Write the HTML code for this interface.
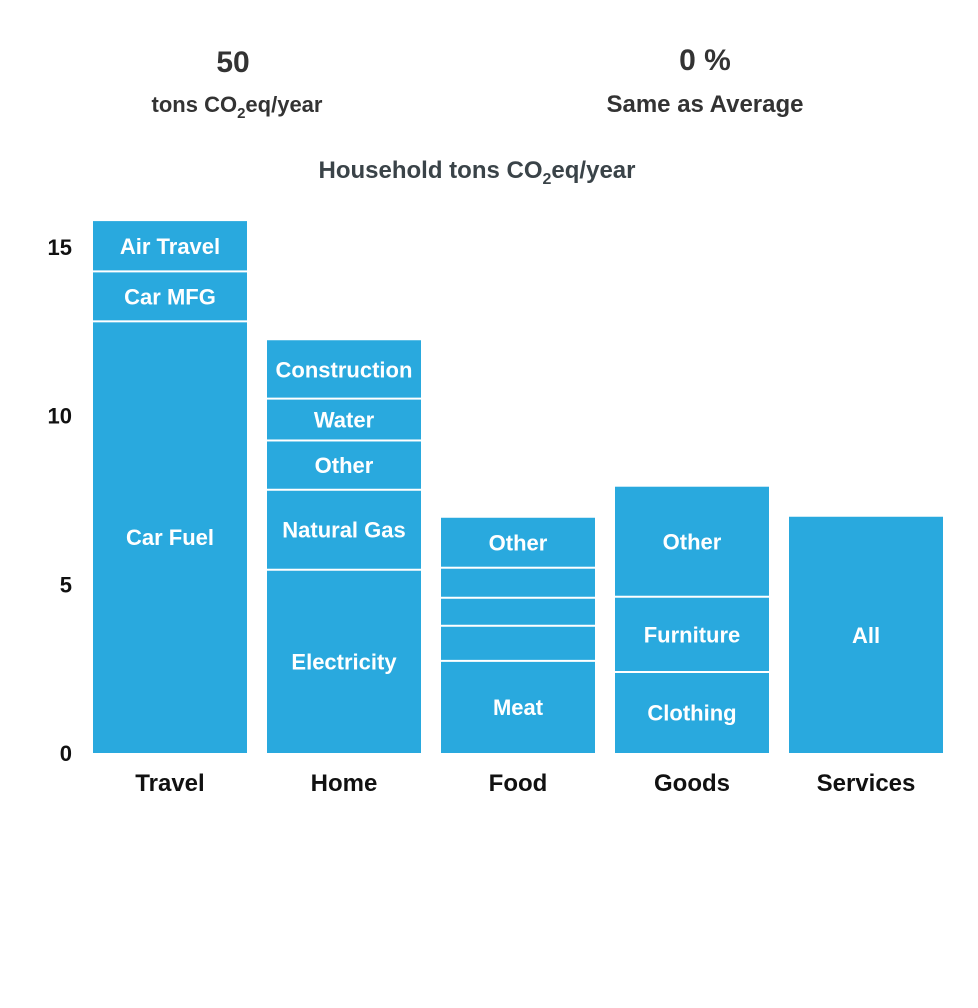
<!DOCTYPE html>
<html><head><meta charset="utf-8"><style>
body{margin:0;background:#fff;}
svg{display:block;font-family:"Liberation Sans",sans-serif;}
</style></head><body>
<svg id="chart" width="978" height="1008">
<text x="233" y="72" text-anchor="middle" font-size="30" font-weight="bold" fill="#333">50</text>
<text x="237" y="112" text-anchor="middle" font-size="22" font-weight="bold" fill="#333">tons CO<tspan font-size="15" dy="6">2</tspan><tspan dy="-6">eq/year</tspan></text>
<text x="705" y="70" text-anchor="middle" font-size="30" font-weight="bold" fill="#333">0 %</text>
<text x="705" y="112" text-anchor="middle" font-size="24" font-weight="bold" fill="#333">Same as Average</text>
<text x="477" y="178" text-anchor="middle" font-size="24" font-weight="bold" fill="#3a4348">Household tons CO<tspan font-size="16" dy="6">2</tspan><tspan dy="-6">eq/year</tspan></text>
<g id="axis"></g><g id="bars"></g>
</svg>
<script>
const categories=["Travel","Home","Food","Goods","Services"];
const segLabels=[["Car Fuel","Car MFG","Air Travel"],["Electricity","Natural Gas","Other","Water","Construction"],["Meat","","","","Other"],["Clothing","Furniture","Other"],["All"]];
const segValues=[[12.79,1.48,1.49],[5.43,2.37,1.46,1.24,1.73],[2.73,1.04,0.83,0.89,1.48],[2.4,2.23,3.26],[7.0]];
const ticks=[0,5,10,15];
const NS="http://www.w3.org/2000/svg";
const y0=753,k=33.75,x0=93,bw=154,gap=20;
const Y=v=>y0-v*k, X=i=>x0+i*(bw+gap);
const ax=document.getElementById("axis"),bars=document.getElementById("bars");
function mk(t,a,p){const e=document.createElementNS(NS,t);for(const q in a)e.setAttribute(q,a[q]);p.appendChild(e);return e;}
ticks.forEach(t=>{const e=mk("text",{x:72,y:Y(t)+8,"text-anchor":"end","font-size":22,"font-weight":"bold",fill:"#111"},ax);


e.textContent=t;});
categories.forEach((c,i)=>{let cum=0;
segValues[i].forEach((v,j)=>{const top=Y(cum+v),bot=Y(cum);
const r=mk("rect",{x:X(i),y:top,width:bw,height:bot-top,fill:"#29a9de"},bars);


if(cum>0){const l=mk("rect",{x:X(i),y:bot-1,width:bw,height:2,fill:"#fff"},bars);

}
if(segLabels[i][j]){const t=mk("text",{x:X(i)+bw/2,y:(top+bot)/2+8,"text-anchor":"middle","font-size":22,"font-weight":"bold",fill:"#fff"},bars);


t.textContent=segLabels[i][j];}
cum+=v;});
const cl=mk("text",{x:X(i)+bw/2,y:791,"text-anchor":"middle","font-size":24,"font-weight":"bold",fill:"#111"},bars);


cl.textContent=c;});
</script>
</body></html>
